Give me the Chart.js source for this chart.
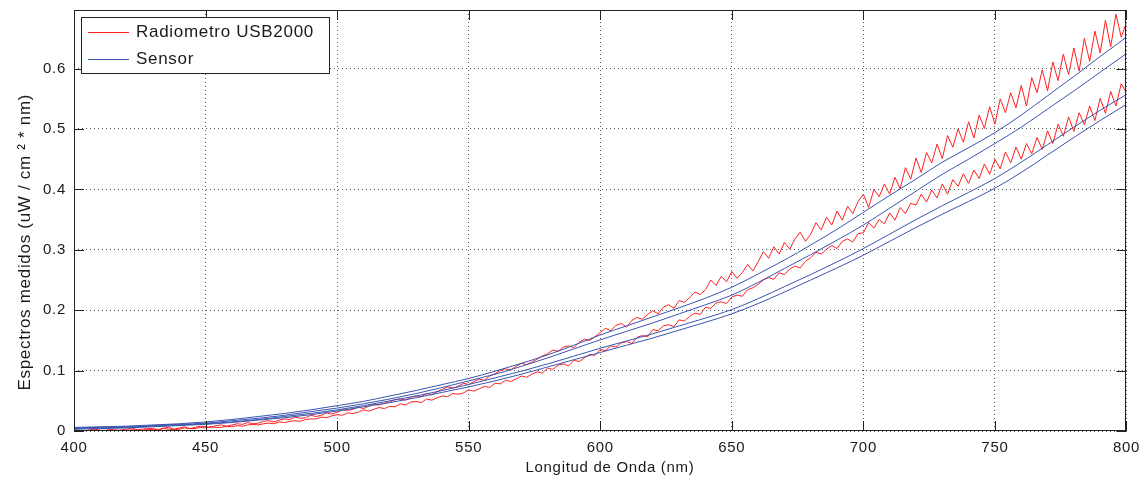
<!DOCTYPE html>
<html>
<head>
<meta charset="utf-8">
<script src="https://cdn.jsdelivr.net/npm/chart.js@4.4.1/dist/chart.umd.min.js"></script>
<style>
  html, body { margin: 0; padding: 0; background: #fff; }
</style>
</head>
<body>
<canvas id="chart" width="1147" height="481"></canvas>
<script>
'use strict';

var xTicks = [400, 450, 500, 550, 600, 650, 700, 750, 800];
var yTicks = [0, 0.1, 0.2, 0.3, 0.4, 0.5, 0.6];
var legendLabels = ['Radiometro USB2000', 'Sensor'];

// sensor curves, every 10 nm
var wlSensor = [];
for (var w = 400; w <= 800; w += 10) wlSensor.push(w);

var sensor1 = [0.006, 0.007, 0.008, 0.010, 0.012, 0.015, 0.019, 0.024, 0.029, 0.035,
  0.042, 0.049, 0.058, 0.067, 0.077, 0.087, 0.099, 0.112, 0.126, 0.142,
  0.159, 0.174, 0.189, 0.204, 0.220, 0.238, 0.260, 0.283, 0.308, 0.334,
  0.362, 0.390, 0.417, 0.445, 0.469, 0.494, 0.523, 0.555, 0.587, 0.620, 0.652];
var sensor2 = [0.005, 0.006, 0.007, 0.009, 0.011, 0.013, 0.017, 0.021, 0.026, 0.032,
  0.038, 0.045, 0.053, 0.062, 0.072, 0.083, 0.094, 0.107, 0.121, 0.136,
  0.151, 0.165, 0.179, 0.194, 0.209, 0.225, 0.246, 0.269, 0.292, 0.316,
  0.341, 0.369, 0.397, 0.425, 0.450, 0.476, 0.503, 0.533, 0.563, 0.594, 0.625];
var sensor3 = [0.004, 0.005, 0.006, 0.008, 0.010, 0.012, 0.015, 0.019, 0.024, 0.029,
  0.035, 0.042, 0.050, 0.058, 0.067, 0.077, 0.088, 0.099, 0.111, 0.124,
  0.137, 0.149, 0.161, 0.174, 0.187, 0.201, 0.219, 0.239, 0.259, 0.280,
  0.302, 0.326, 0.350, 0.373, 0.395, 0.418, 0.445, 0.474, 0.503, 0.531, 0.557];
var sensor4 = [0.003, 0.004, 0.005, 0.007, 0.009, 0.011, 0.014, 0.018, 0.022, 0.027,
  0.033, 0.040, 0.047, 0.055, 0.064, 0.073, 0.083, 0.094, 0.106, 0.118,
  0.130, 0.142, 0.154, 0.167, 0.180, 0.194, 0.211, 0.230, 0.250, 0.270,
  0.291, 0.314, 0.337, 0.359, 0.380, 0.402, 0.428, 0.457, 0.486, 0.514, 0.541];

// radiometer curves, every 2 nm
var wlRadio = [];
for (var r = 400; r <= 800; r += 2) wlRadio.push(r);

var radio1 = [
  0.002, 0.001, 0.000, 0.002, 0.003, 0.001, 0.001, 0.003, 0.000, 0.002,
  0.003, 0.005, 0.002, 0.003, 0.004, 0.004, 0.002, 0.005, 0.006, 0.003,
  0.005, 0.007, 0.004, 0.006, 0.008, 0.007, 0.006, 0.009, 0.010, 0.008,
  0.010, 0.012, 0.011, 0.014, 0.012, 0.013, 0.016, 0.017, 0.015, 0.018,
  0.020, 0.019, 0.023, 0.021, 0.022, 0.026, 0.024, 0.026, 0.030, 0.028,
  0.031, 0.035, 0.034, 0.036, 0.040, 0.037, 0.041, 0.044, 0.043, 0.046,
  0.048, 0.052, 0.053, 0.051, 0.056, 0.058, 0.057, 0.062, 0.060, 0.065,
  0.069, 0.073, 0.071, 0.074, 0.079, 0.077, 0.082, 0.086, 0.084, 0.091,
  0.095, 0.100, 0.103, 0.101, 0.107, 0.112, 0.110, 0.114, 0.119, 0.124,
  0.128, 0.134, 0.132, 0.139, 0.141, 0.138, 0.147, 0.152, 0.150, 0.156,
  0.163, 0.170, 0.166, 0.175, 0.178, 0.172, 0.183, 0.188, 0.185, 0.193,
  0.199, 0.194, 0.205, 0.209, 0.203, 0.216, 0.213, 0.221, 0.230, 0.226,
  0.234, 0.250, 0.241, 0.256, 0.247, 0.264, 0.253, 0.262, 0.276, 0.265,
  0.280, 0.297, 0.286, 0.305, 0.293, 0.312, 0.301, 0.318, 0.329, 0.314,
  0.326, 0.345, 0.333, 0.354, 0.341, 0.364, 0.349, 0.372, 0.360, 0.380,
  0.392, 0.370, 0.400, 0.388, 0.409, 0.392, 0.420, 0.401, 0.436, 0.417,
  0.452, 0.428, 0.461, 0.444, 0.475, 0.451, 0.489, 0.470, 0.500, 0.478,
  0.512, 0.485, 0.523, 0.501, 0.537, 0.508, 0.550, 0.527, 0.560, 0.535,
  0.572, 0.538, 0.585, 0.560, 0.598, 0.563, 0.611, 0.580, 0.624, 0.590,
  0.634, 0.596, 0.650, 0.612, 0.662, 0.626, 0.680, 0.636, 0.690, 0.652,
  0.676];
var radio2 = [
  0.000, 0.001, 0.000, 0.000, 0.002, 0.001, 0.000, 0.001, 0.002, 0.000,
  0.001, 0.002, 0.002, 0.001, 0.003, 0.002, 0.002, 0.004, 0.003, 0.002,
  0.003, 0.005, 0.004, 0.004, 0.006, 0.005, 0.007, 0.006, 0.006, 0.008,
  0.007, 0.009, 0.008, 0.010, 0.011, 0.010, 0.012, 0.013, 0.012, 0.015,
  0.014, 0.016, 0.017, 0.016, 0.019, 0.020, 0.020, 0.023, 0.022, 0.025,
  0.027, 0.026, 0.030, 0.029, 0.031, 0.035, 0.033, 0.036, 0.039, 0.037,
  0.041, 0.040, 0.045, 0.043, 0.048, 0.049, 0.047, 0.053, 0.051, 0.055,
  0.058, 0.057, 0.062, 0.061, 0.063, 0.068, 0.066, 0.070, 0.074, 0.072,
  0.079, 0.078, 0.084, 0.082, 0.086, 0.091, 0.089, 0.094, 0.098, 0.096,
  0.104, 0.102, 0.109, 0.111, 0.108, 0.117, 0.115, 0.121, 0.127, 0.125,
  0.135, 0.133, 0.141, 0.139, 0.146, 0.148, 0.145, 0.155, 0.158, 0.156,
  0.168, 0.166, 0.174, 0.176, 0.173, 0.184, 0.182, 0.190, 0.195, 0.193,
  0.205, 0.203, 0.212, 0.214, 0.211, 0.222, 0.225, 0.223, 0.234, 0.237,
  0.243, 0.250, 0.254, 0.251, 0.262, 0.259, 0.268, 0.273, 0.270, 0.281,
  0.287, 0.296, 0.293, 0.301, 0.307, 0.302, 0.314, 0.318, 0.313, 0.327,
  0.328, 0.345, 0.336, 0.350, 0.343, 0.361, 0.349, 0.370, 0.360, 0.377,
  0.374, 0.392, 0.379, 0.399, 0.386, 0.409, 0.392, 0.416, 0.405, 0.426,
  0.410, 0.432, 0.418, 0.442, 0.425, 0.450, 0.434, 0.462, 0.444, 0.470,
  0.450, 0.476, 0.459, 0.486, 0.466, 0.497, 0.476, 0.508, 0.488, 0.520,
  0.496, 0.527, 0.507, 0.538, 0.514, 0.551, 0.526, 0.562, 0.538, 0.575,
  0.560];

var RED = '#ff2020';
var BLUE = '#3a55b0';
var FONT = '"Liberation Sans", Arial, sans-serif';

function pts(xs, ys) {
  return ys.map(function (v, i) { return { x: xs[i], y: v }; });
}

function redSet(ys) {
  return { data: pts(wlRadio, ys), borderColor: RED, borderWidth: 1, pointRadius: 0, order: 2 };
}
function blueSet(ys) {
  return { data: pts(wlSensor, ys), borderColor: BLUE, borderWidth: 1, pointRadius: 0,
           cubicInterpolationMode: 'monotone', order: 1 };
}

// MATLAB style frame with inward ticks, and the legend box
var framePlugin = {
  id: 'frame',
  beforeDraw: function (chart) {
    chart.ctx.letterSpacing = '0.7px';
  },
  afterDatasetsDraw: function (chart) {
    var ctx = chart.ctx, a = chart.chartArea;
    var sx = chart.scales.x, sy = chart.scales.y;
    ctx.save();
    ctx.strokeStyle = '#222';
    ctx.lineWidth = 1;
    ctx.strokeRect(Math.round(a.left) + 0.5, Math.round(a.top) + 0.5,
      Math.round(a.right - a.left) - 1, Math.round(a.bottom - a.top) - 1);
    ctx.beginPath();
    xTicks.forEach(function (v) {
      var px = Math.round(sx.getPixelForValue(v)) + 0.5;
      ctx.moveTo(px, a.bottom); ctx.lineTo(px, a.bottom - 10);
      ctx.moveTo(px, a.top); ctx.lineTo(px, a.top + 10);
    });
    yTicks.forEach(function (v) {
      var py = Math.round(sy.getPixelForValue(v)) + 0.5;
      ctx.moveTo(a.left, py); ctx.lineTo(a.left + 10, py);
      ctx.moveTo(a.right, py); ctx.lineTo(a.right - 10, py);
    });
    ctx.stroke();

    // legend
    var lx = Math.round(a.left) + 7, ly = Math.round(a.top) + 7;
    ctx.fillStyle = '#fff';
    ctx.fillRect(lx, ly, 249, 57);
    ctx.strokeStyle = '#222';
    ctx.strokeRect(lx + 0.5, ly + 0.5, 248, 56);
    var colors = [RED, BLUE];
    ctx.font = '17px ' + FONT;
    ctx.textBaseline = 'middle';
    ctx.textAlign = 'left';
    legendLabels.forEach(function (t, i) {
      var y = ly + 15.5 + i * 27;
      ctx.strokeStyle = colors[i];
      ctx.beginPath();
      ctx.moveTo(lx + 7, y); ctx.lineTo(lx + 48, y);
      ctx.stroke();
      ctx.fillStyle = '#1a1a1a';
      ctx.fillText(t, lx + 55, y);
    });
    ctx.restore();
  }
};

new Chart(document.getElementById('chart'), {
  type: 'line',
  data: {
    datasets: [
      redSet(radio1), redSet(radio2),
      blueSet(sensor1), blueSet(sensor2), blueSet(sensor3), blueSet(sensor4)
    ]
  },
  options: {
    responsive: false,
    animation: false,
    layout: { padding: { top: 10, right: 20, left: 0, bottom: 0 } },
    plugins: { legend: { display: false }, tooltip: { enabled: false } },
    scales: {
      x: {
        type: 'linear', min: 400, max: 800,
        afterBuildTicks: function (s) { s.ticks = xTicks.map(function (v) { return { value: v }; }); },
        afterFit: function (s) { s.height = 50; },
        ticks: { color: '#1a1a1a', font: { family: FONT, size: 15 }, padding: 8, maxRotation: 0,
                 callback: function (v) { return String(v); } },
        grid: { color: '#555', drawTicks: false, lineWidth: 1 },
        border: { display: false, dash: [1, 3] },
        title: { display: true, text: '    Longitud de Onda (nm)', color: '#1a1a1a',
                 font: { family: FONT, size: 15 }, padding: { top: 0, bottom: 4 } }
      },
      y: {
        type: 'linear', min: 0, max: 0.697,
        afterBuildTicks: function (s) { s.ticks = yTicks.map(function (v) { return { value: v }; }); },
        afterFit: function (s) { s.width = 74; s.paddingTop = 0; s.paddingBottom = 0; },
        ticks: { color: '#1a1a1a', font: { family: FONT, size: 15 }, padding: 8,
                 callback: function (v) { return v === 0 ? '0' : v.toFixed(1); } },
        grid: { color: '#555', drawTicks: false, lineWidth: 1 },
        border: { display: false, dash: [1, 3] },
        title: { display: true, text: 'Espectros medidos (uW / cm ² * nm)        ', color: '#1a1a1a',
                 font: { family: FONT, size: 17 }, padding: { top: 15, bottom: 0 } }
      }
    }
  },
  plugins: [framePlugin]
});
</script>
</body>
</html>
